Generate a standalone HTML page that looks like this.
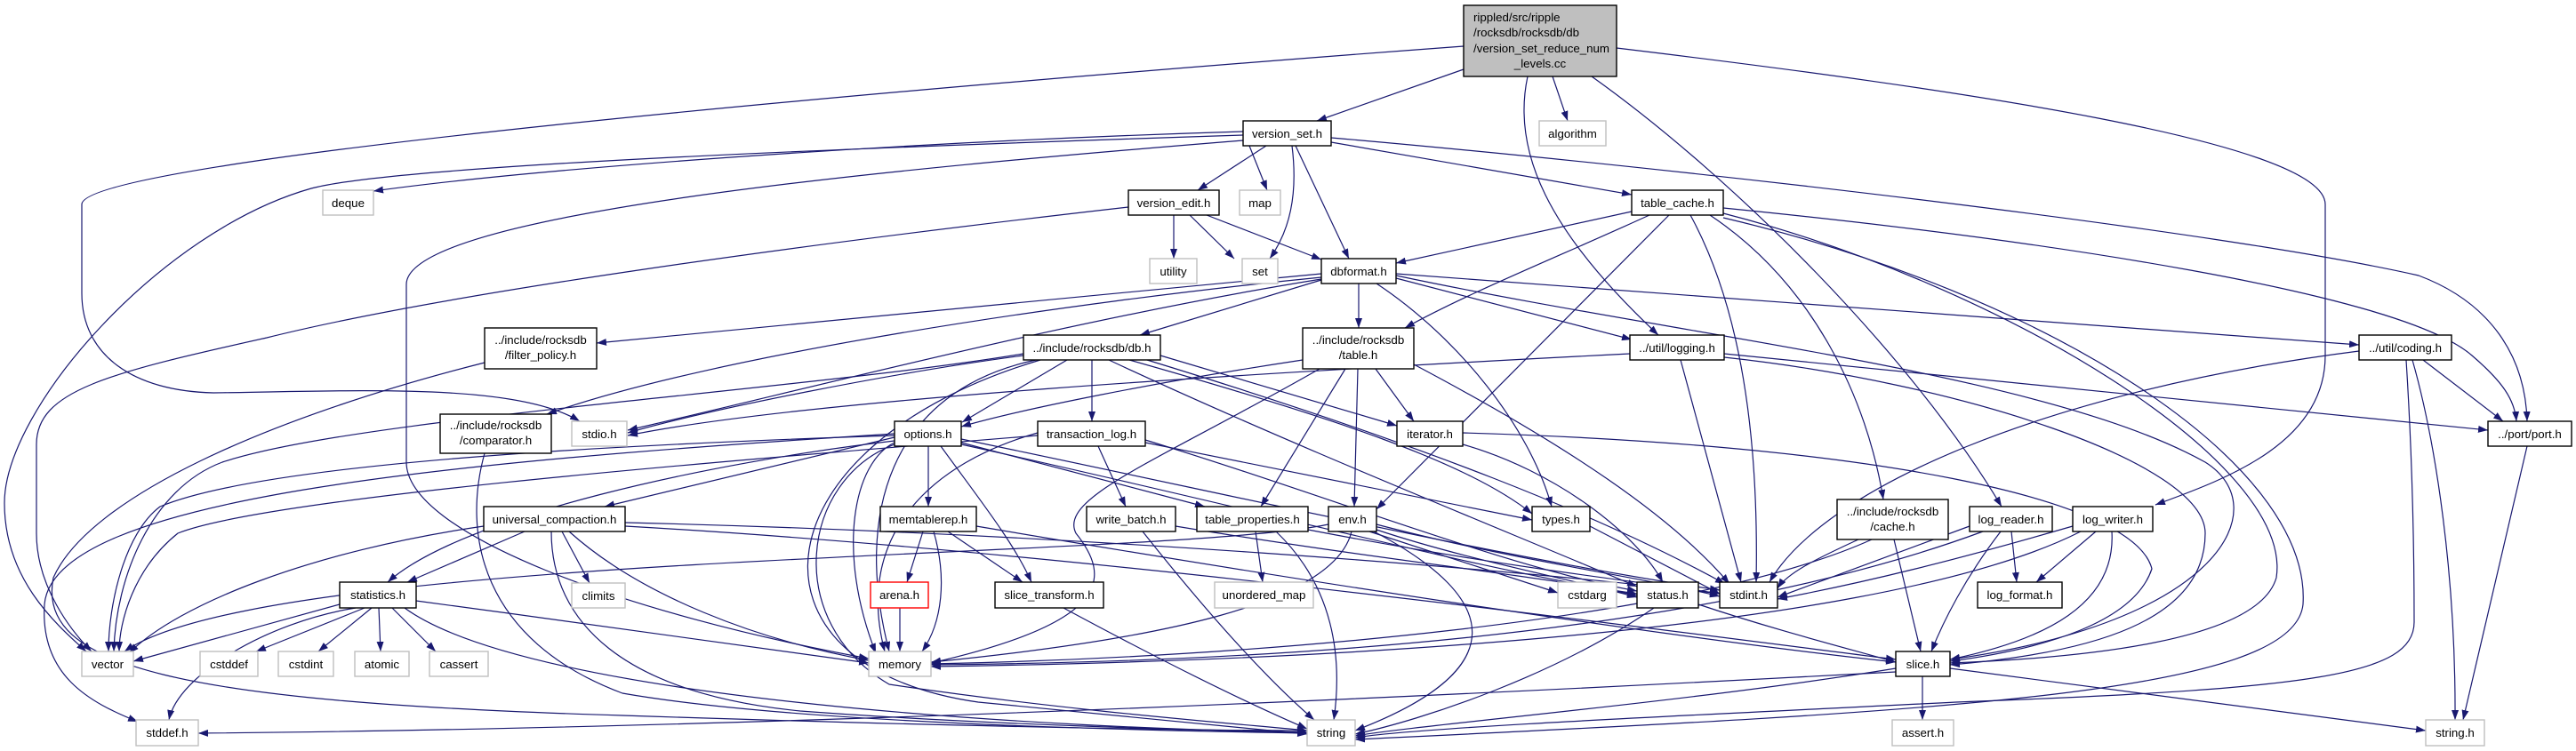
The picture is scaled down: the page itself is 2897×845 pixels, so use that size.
<!DOCTYPE html>
<html><head><meta charset="utf-8"><style>
html,body{margin:0;padding:0;background:#fff;}
svg{display:block;}
text{font-family:"Liberation Sans",Helvetica,Arial,sans-serif;font-size:13.3px;fill:#000;}
.e{fill:none;stroke:#191970;stroke-width:1.2;marker-end:url(#a);}
.b{fill:#fff;stroke:#000;stroke-width:1.4;}
.g{fill:#fff;stroke:#bfbfbf;stroke-width:1.4;}
.r{fill:#fff;stroke:#ff0000;stroke-width:1.4;}
</style></head><body>
<svg width="2897" height="845" viewBox="0 0 2897 845" xmlns="http://www.w3.org/2000/svg">
<defs><marker id="a" markerUnits="userSpaceOnUse" markerWidth="11" markerHeight="8" refX="11" refY="4" orient="auto"><path d="M0,0 L11,4 L0,8 z" fill="#191970"/></marker></defs>
<g>
<!-- main -->
<path class="e" d="M1646,78 L1481,136"/>
<path class="e" d="M1746,86 L1763,136"/>
<path class="e" d="M1718,86 C1700,170 1740,260 1865,377"/>
<path class="e" d="M1818,54 C2200,100 2615,160 2615,230 L2615,400 C2615,500 2500,540 2424,568"/>
<path class="e" d="M1790,86 C1950,200 2150,400 2251,570"/>
<path class="e" d="M1646,52 C1000,100 92,180 92,230 L92,330 C92,400 150,440 240,442 C400,440 580,430 652,474"/>
<!-- version_set -->
<path class="e" d="M1424,164 L1347,214"/>
<path class="e" d="M1405,164 L1425,214"/>
<path class="e" d="M1453,164 C1460,220 1450,260 1428,291"/>
<path class="e" d="M1457,164 L1517,291"/>
<path class="e" d="M1497,160 L1835,219"/>
<path class="e" d="M1497,155 C1900,190 2500,260 2720,310 C2800,340 2840,400 2842,474"/>
<path class="e" d="M1398,148 C1000,160 600,190 420,215"/>
<path class="e" d="M1398,152 C1000,165 450,185 350,212 C180,260 5,460 5,566 C5,650 60,700 97,733"/>
<path class="e" d="M1398,158 C1000,190 457,240 457,320 L457,520 C457,600 700,690 977,741"/>
<!-- version_edit -->
<path class="e" d="M1320,242 L1320,291"/>
<path class="e" d="M1338,242 L1388,291"/>
<path class="e" d="M1357,242 L1486,292"/>
<path class="e" d="M1269,233 C900,275 500,330 300,380 C120,420 41,440 41,500 L41,600 C41,660 80,710 103,733"/>
<!-- table_cache -->
<path class="e" d="M1835,238 L1570,296"/>
<path class="e" d="M1855,242 C1750,290 1650,330 1580,369"/>
<path class="e" d="M1877,242 L1548,573"/>
<path class="e" d="M1901,242 C1960,350 1978,500 1975,655"/>
<path class="e" d="M1923,242 C2040,320 2100,450 2118,562"/>
<path class="e" d="M1938,234 C2300,270 2700,330 2780,400 C2815,430 2828,450 2830,474"/>
<path class="e" d="M1938,240 C2250,320 2580,520 2560,650 C2540,720 2350,740 2193,746"/>
<path class="e" d="M1938,245 C2300,330 2600,520 2590,680 C2580,780 2200,800 1524,832"/>
<!-- dbformat -->
<path class="e" d="M1528,319 L1528,369"/>
<path class="e" d="M1486,315 L1282,377"/>
<path class="e" d="M1570,313 L1835,382"/>
<path class="e" d="M1570,308 L2653,388"/>
<path class="e" d="M1548,319 C1640,380 1720,480 1745,570"/>
<path class="e" d="M1486,308 L671,386"/>
<path class="e" d="M1486,312 C1200,340 800,400 615,466"/>
<path class="e" d="M1486,314 C1200,360 900,440 706,484"/>
<path class="e" d="M1570,310 C1900,380 2300,420 2480,520 C2560,570 2500,700 2193,742"/>
<!-- db.h -->
<path class="e" d="M1200,405 L1082,475"/>
<path class="e" d="M1228,405 L1228,474"/>
<path class="e" d="M1305,400 L1571,479"/>
<path class="e" d="M1270,405 C1500,470 1650,520 1723,578"/>
<path class="e" d="M1247,405 C1450,500 1700,600 1841,660"/>
<path class="e" d="M1290,405 C1600,500 1800,580 1940,657"/>
<path class="e" d="M1151,400 C1000,420 800,460 706,487"/>
<path class="e" d="M1151,398 C900,440 400,470 250,520 C170,550 130,650 128,733"/>
<path class="e" d="M1165,405 C1000,440 960,580 1000,733"/>
<path class="e" d="M1170,405 C850,500 820,750 1100,790 C1300,810 1400,820 1470,826"/>
<!-- table.h -->
<path class="e" d="M1547,415 L1590,474"/>
<path class="e" d="M1527,415 L1523,570"/>
<path class="e" d="M1513,415 L1418,570"/>
<path class="e" d="M1465,405 C1300,430 1150,460 1081,480"/>
<path class="e" d="M1590,410 C1760,500 1880,580 1945,657"/>
<path class="e" d="M1484,415 C1300,520 1190,560 1210,600 C1250,650 1250,700 1047,746"/>
<!-- logging -->
<path class="e" d="M1890,405 L1958,655"/>
<path class="e" d="M1939,398 L2798,484"/>
<path class="e" d="M1833,398 C1400,420 900,450 706,490"/>
<path class="e" d="M1939,402 C2200,430 2480,520 2480,600 C2480,700 2350,735 2193,748"/>
<!-- coding -->
<path class="e" d="M2725,405 L2815,474"/>
<path class="e" d="M2713,405 C2740,500 2762,650 2761,810"/>
<path class="e" d="M2653,395 C2300,440 2050,550 1990,655"/>
<path class="e" d="M2706,405 C2712,500 2715,600 2715,700 C2715,760 2600,775 2200,790 C1900,805 1600,818 1524,830"/>
<!-- port -->
<path class="e" d="M2842,502 L2770,810"/>
<!-- options -->
<path class="e" d="M1044,502 L1044,570"/>
<path class="e" d="M1058,502 C1100,560 1140,610 1160,655"/>
<path class="e" d="M1081,498 L1355,570"/>
<path class="e" d="M1006,492 L680,570"/>
<path class="e" d="M1006,496 C800,520 520,580 436,655"/>
<path class="e" d="M1006,490 C700,500 300,520 180,570 C140,600 122,680 122,733"/>
<path class="e" d="M1006,498 C960,520 940,620 985,735"/>
<path class="e" d="M1006,500 C900,540 880,700 1000,770 C1200,800 1400,815 1470,822"/>
<path class="e" d="M1081,494 C1400,560 1700,630 1934,664"/>
<path class="e" d="M1081,500 C1400,570 1700,650 1841,668"/>
<path class="e" d="M1006,488 C500,520 60,560 50,680 C45,760 100,790 155,812"/>
<!-- transaction_log -->
<path class="e" d="M1235,502 L1266,570"/>
<path class="e" d="M1167,487 C1050,520 960,600 995,733"/>
<path class="e" d="M1288,498 L1723,585"/>
<path class="e" d="M1288,495 C1500,560 1700,640 1841,665"/>
<path class="e" d="M1167,490 C800,520 300,560 200,600 C150,640 134,700 134,733"/>
<!-- memtablerep -->
<path class="e" d="M1038,598 L1020,655"/>
<path class="e" d="M1050,598 C1065,650 1060,700 1037,733"/>
<path class="e" d="M1066,598 L1150,655"/>
<path class="e" d="M1098,592 C1500,660 1900,720 2132,745"/>
<path class="e" d="M1012,684 L1012,733"/>
<path class="e" d="M1196,684 C1300,740 1400,790 1470,820"/>
<!-- write_batch, table_properties, env -->
<path class="e" d="M1285,598 C1350,680 1420,760 1478,810"/>
<path class="e" d="M1322,592 C1550,630 1750,650 1841,670"/>
<path class="e" d="M1412,598 L1420,655"/>
<path class="e" d="M1435,598 C1500,660 1510,740 1500,810"/>
<path class="e" d="M1471,596 C1700,640 1850,655 1934,668"/>
<path class="e" d="M1540,598 L1752,667"/>
<path class="e" d="M1548,596 C1650,630 1760,650 1841,672"/>
<path class="e" d="M1548,590 C1700,630 1850,650 1934,671"/>
<path class="e" d="M1520,598 C1500,680 1300,720 1047,745"/>
<path class="e" d="M1545,598 C1690,674 1702,754 1524,822"/>
<path class="e" d="M1494,590 C1300,630 300,620 140,733"/>
<!-- iterator, types, status -->
<path class="e" d="M1645,500 C1750,530 1840,600 1870,655"/>
<path class="e" d="M1645,487 C2100,500 2400,560 2420,640 C2400,700 2300,730 2193,744"/>
<path class="e" d="M1788,592 L1934,668"/>
<path class="e" d="M1910,680 C2000,710 2080,730 2132,745"/>
<path class="e" d="M1860,684 C1750,760 1600,810 1524,826"/>
<!-- cache, log_reader, log_writer -->
<path class="e" d="M2090,607 C2040,630 2010,645 1999,662"/>
<path class="e" d="M2105,607 C1900,700 1400,740 1047,747"/>
<path class="e" d="M2130,607 L2160,733"/>
<path class="e" d="M2262,598 L2268,655"/>
<path class="e" d="M2250,598 C2210,650 2185,700 2172,733"/>
<path class="e" d="M2215,592 L1999,672"/>
<path class="e" d="M2230,598 C1900,720 1400,745 1047,748"/>
<path class="e" d="M2357,598 L2290,655"/>
<path class="e" d="M2375,598 C2380,680 2300,720 2193,742"/>
<path class="e" d="M2331,592 C2200,630 2100,655 1999,674"/>
<path class="e" d="M2340,598 C2100,720 1400,745 1047,750"/>
<!-- slice -->
<path class="e" d="M2162,761 L2162,810"/>
<path class="e" d="M2132,752 C1900,790 1600,815 1524,828"/>
<path class="e" d="M2193,752 L2728,822"/>
<path class="e" d="M2132,756 C1500,790 800,820 223,825"/>
<!-- universal_compaction -->
<path class="e" d="M590,598 L458,655"/>
<path class="e" d="M632,598 L663,656"/>
<path class="e" d="M544,592 C350,620 200,680 145,735"/>
<path class="e" d="M640,598 C720,670 850,720 977,743"/>
<path class="e" d="M620,598 C620,700 700,780 900,800 C1100,815 1350,822 1470,824"/>
<path class="e" d="M703,592 C1200,620 1800,700 2132,742"/>
<path class="e" d="M703,588 C1200,600 1700,640 1934,668"/>
<!-- statistics -->
<path class="e" d="M382,680 L150,744"/>
<path class="e" d="M410,684 L288,733"/>
<path class="e" d="M418,684 L358,733"/>
<path class="e" d="M426,684 L428,733"/>
<path class="e" d="M441,684 L490,733"/>
<path class="e" d="M400,684 C300,700 200,760 190,810"/>
<path class="e" d="M468,676 C650,700 850,730 977,746"/>
<path class="e" d="M455,684 C600,790 1200,820 1470,824"/>
<!-- comparator, filter_policy -->
<path class="e" d="M545,510 C520,600 540,720 700,780 C900,815 1300,822 1470,825"/>
<path class="e" d="M545,408 C300,470 100,560 60,650 C40,750 200,790 700,805 C1000,815 1300,822 1470,822"/>
</g>
<g>
<rect x="1646" y="6" width="172" height="80" fill="#bfbfbf" stroke="#000" stroke-width="1.4"/>
<text x="1657" y="24">rippled/src/ripple</text>
<text x="1657" y="41">/rocksdb/rocksdb/db</text>
<text x="1657" y="59">/version_set_reduce_num</text>
<text x="1732" y="76" text-anchor="middle">_levels.cc</text>

<rect class="b" x="1398" y="136" width="99" height="28"/><text x="1447.5" y="155" text-anchor="middle">version_set.h</text>
<rect class="g" x="1731" y="136" width="75" height="28"/><text x="1768.5" y="155" text-anchor="middle">algorithm</text>
<rect class="g" x="363" y="214" width="57" height="28"/><text x="391.5" y="233" text-anchor="middle">deque</text>
<rect class="g" x="1394" y="214" width="46" height="28"/><text x="1417" y="233" text-anchor="middle">map</text>
<rect class="b" x="1269" y="214" width="102" height="28"/><text x="1320" y="233" text-anchor="middle">version_edit.h</text>
<rect class="b" x="1835" y="214" width="103" height="28"/><text x="1886.5" y="233" text-anchor="middle">table_cache.h</text>
<rect class="g" x="1293" y="291" width="53" height="28"/><text x="1319.5" y="310" text-anchor="middle">utility</text>
<rect class="g" x="1397" y="291" width="40" height="28"/><text x="1417" y="310" text-anchor="middle">set</text>
<rect class="b" x="1486" y="291" width="84" height="28"/><text x="1528" y="310" text-anchor="middle">dbformat.h</text>
<rect class="b" x="1151" y="377" width="154" height="28"/><text x="1228" y="396" text-anchor="middle">../include/rocksdb/db.h</text>
<rect class="b" x="1465" y="369" width="125" height="46"/><text x="1527.5" y="387" text-anchor="middle">../include/rocksdb</text><text x="1527.5" y="404" text-anchor="middle">/table.h</text>
<rect class="b" x="1833" y="377" width="106" height="28"/><text x="1886" y="396" text-anchor="middle">../util/logging.h</text>
<rect class="b" x="2653" y="377" width="104" height="28"/><text x="2705" y="396" text-anchor="middle">../util/coding.h</text>
<rect class="b" x="545" y="369" width="126" height="46"/><text x="608" y="387" text-anchor="middle">../include/rocksdb</text><text x="608" y="404" text-anchor="middle">/filter_policy.h</text>
<rect class="b" x="495" y="466" width="125" height="44"/><text x="557.5" y="483" text-anchor="middle">../include/rocksdb</text><text x="557.5" y="500" text-anchor="middle">/comparator.h</text>
<rect class="g" x="643" y="474" width="62" height="28"/><text x="674" y="493" text-anchor="middle">stdio.h</text>
<rect class="b" x="1006" y="474" width="75" height="28"/><text x="1043.5" y="493" text-anchor="middle">options.h</text>
<rect class="b" x="1167" y="474" width="121" height="28"/><text x="1227.5" y="493" text-anchor="middle">transaction_log.h</text>
<rect class="b" x="1571" y="474" width="74" height="28"/><text x="1608" y="493" text-anchor="middle">iterator.h</text>
<rect class="b" x="2798" y="474" width="94" height="28"/><text x="2845" y="493" text-anchor="middle">../port/port.h</text>
<rect class="b" x="544" y="570" width="159" height="28"/><text x="623.5" y="589" text-anchor="middle">universal_compaction.h</text>
<rect class="b" x="990" y="570" width="108" height="28"/><text x="1044" y="589" text-anchor="middle">memtablerep.h</text>
<rect class="b" x="1222" y="570" width="100" height="28"/><text x="1272" y="589" text-anchor="middle">write_batch.h</text>
<rect class="b" x="1346" y="570" width="125" height="28"/><text x="1408.5" y="589" text-anchor="middle">table_properties.h</text>
<rect class="b" x="1494" y="570" width="54" height="28"/><text x="1521" y="589" text-anchor="middle">env.h</text>
<rect class="b" x="1723" y="570" width="65" height="28"/><text x="1755.5" y="589" text-anchor="middle">types.h</text>
<rect class="b" x="2066" y="562" width="125" height="45"/><text x="2128.5" y="580" text-anchor="middle">../include/rocksdb</text><text x="2128.5" y="597" text-anchor="middle">/cache.h</text>
<rect class="b" x="2215" y="570" width="93" height="28"/><text x="2261.5" y="589" text-anchor="middle">log_reader.h</text>
<rect class="b" x="2331" y="570" width="90" height="28"/><text x="2376" y="589" text-anchor="middle">log_writer.h</text>
<rect class="b" x="382" y="655" width="86" height="29"/><text x="425" y="674" text-anchor="middle">statistics.h</text>
<rect class="g" x="643" y="656" width="60" height="28"/><text x="673" y="675" text-anchor="middle">climits</text>
<rect class="r" x="979" y="655" width="65" height="29"/><text x="1011.5" y="674" text-anchor="middle">arena.h</text>
<rect class="b" x="1119" y="655" width="122" height="29"/><text x="1180" y="674" text-anchor="middle">slice_transform.h</text>
<rect class="g" x="1366" y="655" width="111" height="29"/><text x="1421.5" y="674" text-anchor="middle">unordered_map</text>
<rect class="g" x="1752" y="655" width="66" height="29"/><text x="1785" y="674" text-anchor="middle">cstdarg</text>
<rect class="b" x="1841" y="655" width="69" height="29"/><text x="1875.5" y="674" text-anchor="middle">status.h</text>
<rect class="b" x="1934" y="655" width="65" height="29"/><text x="1966.5" y="674" text-anchor="middle">stdint.h</text>
<rect class="b" x="2224" y="655" width="95" height="29"/><text x="2271.5" y="674" text-anchor="middle">log_format.h</text>
<rect class="g" x="92" y="733" width="58" height="28"/><text x="121" y="752" text-anchor="middle">vector</text>
<rect class="g" x="225" y="733" width="65" height="28"/><text x="257.5" y="752" text-anchor="middle">cstddef</text>
<rect class="g" x="313" y="733" width="62" height="28"/><text x="344" y="752" text-anchor="middle">cstdint</text>
<rect class="g" x="399" y="733" width="61" height="28"/><text x="429.5" y="752" text-anchor="middle">atomic</text>
<rect class="g" x="483" y="733" width="66" height="28"/><text x="516" y="752" text-anchor="middle">cassert</text>
<rect class="g" x="977" y="733" width="70" height="28"/><text x="1012" y="752" text-anchor="middle">memory</text>
<rect class="b" x="2132" y="733" width="61" height="28"/><text x="2162.5" y="752" text-anchor="middle">slice.h</text>
<rect class="g" x="153" y="810" width="70" height="29"/><text x="188" y="829" text-anchor="middle">stddef.h</text>
<rect class="g" x="1470" y="810" width="54" height="29"/><text x="1497" y="829" text-anchor="middle">string</text>
<rect class="g" x="2128" y="810" width="69" height="29"/><text x="2162.5" y="829" text-anchor="middle">assert.h</text>
<rect class="g" x="2728" y="810" width="66" height="29"/><text x="2761" y="829" text-anchor="middle">string.h</text>
</g>
</svg>
</body></html>
